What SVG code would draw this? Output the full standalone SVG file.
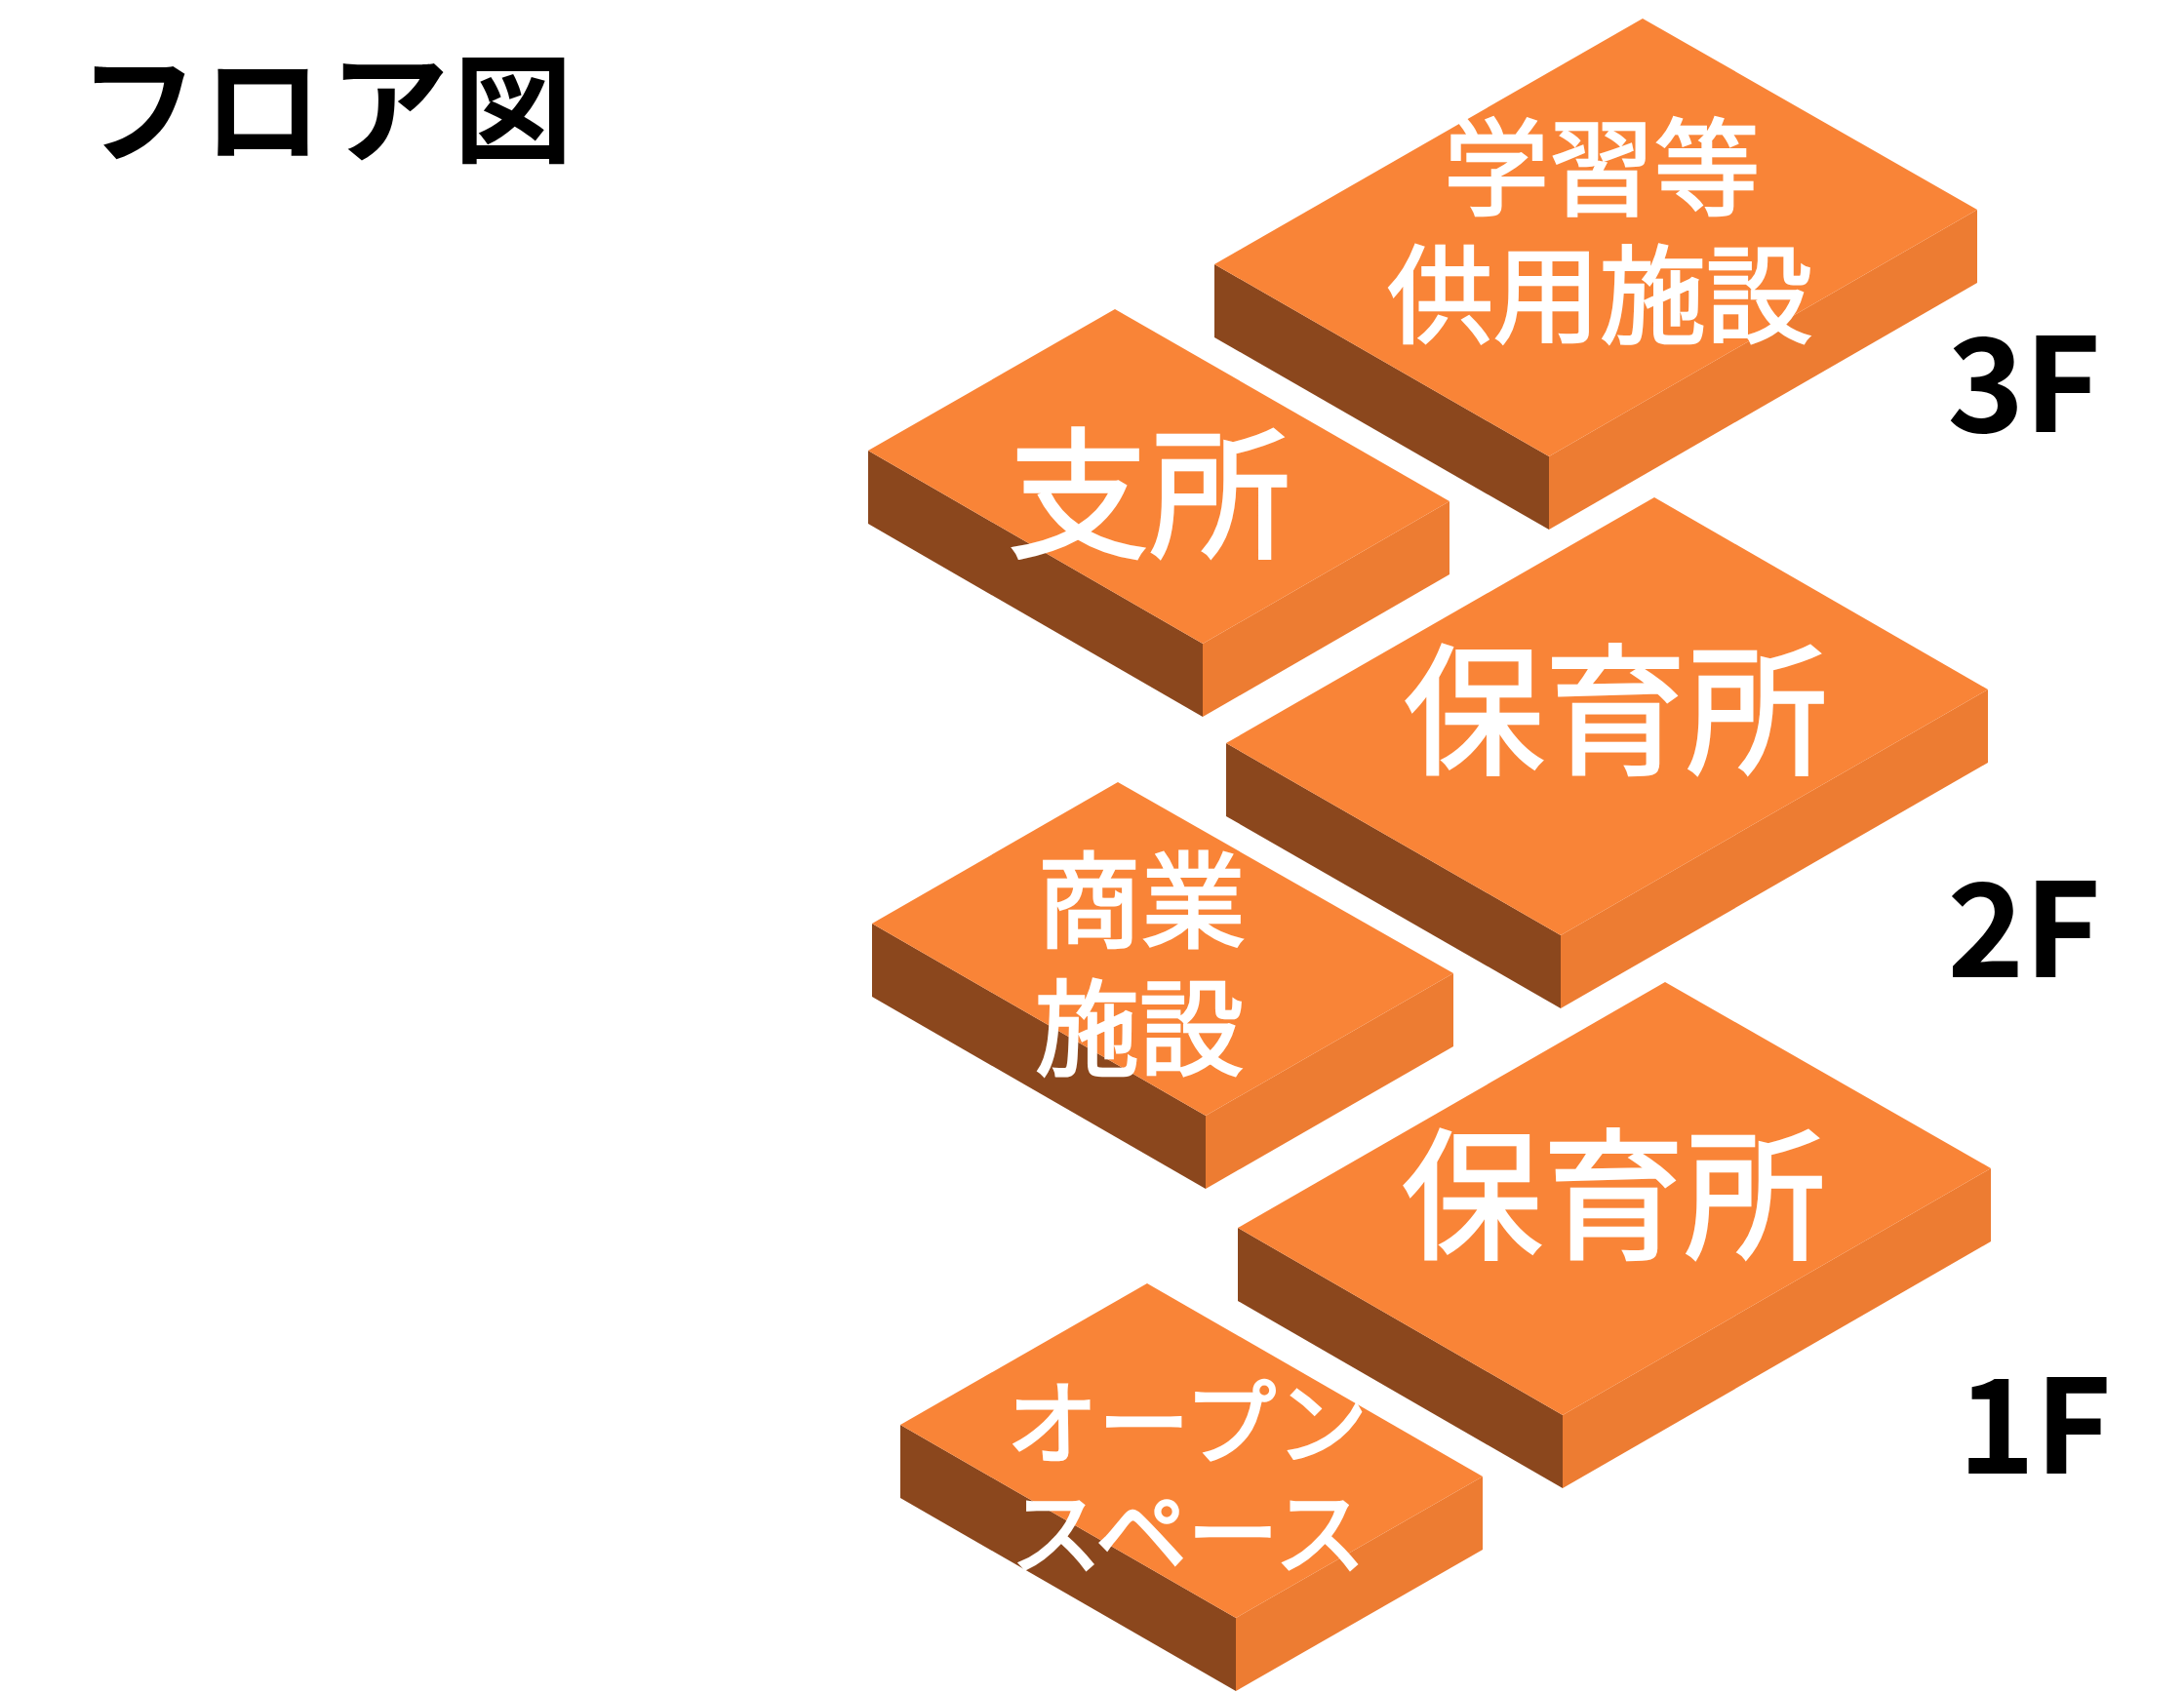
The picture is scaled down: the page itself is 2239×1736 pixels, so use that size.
<svg xmlns="http://www.w3.org/2000/svg" width="2239" height="1736" viewBox="0 0 2239 1736">
<style>
.top{fill:#f98437}.l{fill:#8b471d}.r{fill:#ed7c32}
text{font-family:"Noto Sans CJK JP","Noto Sans",sans-serif;font-weight:400;text-anchor:middle}
.w{fill:#fff;stroke:#fff;stroke-width:2.5;stroke-linejoin:miter}
.k{fill:#000;font-weight:700}
</style>
<rect width="2239" height="1736" fill="#fff"/>
<g id="title"><text class="k" x="142 269 399 526" y="157" font-size="122">フロア図</text></g>
<g id="block-3f-study"><polygon class="l" points="1245,271 1588,468 1588,543 1245,346"/><polygon class="r" points="1588,468 2027,215 2027,290 1588,543"/><polygon class="top" points="1684,19 2027,215 1588,468 1245,271"/>
<text class="w" x="1642" y="212" font-size="108">学習等</text><text class="w" x="1640" y="343" font-size="109">供用施設</text></g>
<g id="block-branch"><polygon class="l" points="890,462 1233,660 1233,735 890,537"/><polygon class="r" points="1233,660 1486,514 1486,589 1233,735"/><polygon class="top" points="1143,317 1486,514 1233,660 890,462"/>
<text class="w" x="1178" y="561" font-size="145">支所</text></g>
<g id="block-2f-nursery"><polygon class="l" points="1257,762 1600,959 1600,1034 1257,837"/><polygon class="r" points="1600,959 2038,707 2038,782 1600,1034"/><polygon class="top" points="1696,510 2038,707 1600,959 1257,762"/>
<text class="w" x="1656" y="783" font-size="145">保育所</text></g>
<g id="block-commerce"><polygon class="l" points="894,947 1236,1144 1236,1219 894,1022"/><polygon class="r" points="1236,1144 1490,998 1490,1073 1236,1219"/><polygon class="top" points="1146,802 1490,998 1236,1144 894,947"/>
<text class="w" x="1170" y="963" font-size="107">商業</text><text class="w" x="1168" y="1094" font-size="107">施設</text></g>
<g id="block-1f-nursery"><polygon class="l" points="1269,1259 1602,1451 1602,1526 1269,1334"/><polygon class="r" points="1602,1451 2041,1198 2041,1273 1602,1526"/><polygon class="top" points="1707,1007 2041,1198 1602,1451 1269,1259"/>
<text class="w" x="1654" y="1280" font-size="145">保育所</text></g>
<g id="block-open"><polygon class="l" points="923,1461 1267,1659 1267,1734 923,1536"/><polygon class="r" points="1267,1659 1520,1514 1520,1589 1267,1734"/><polygon class="top" points="1176,1316 1520,1514 1267,1659 923,1461"/>
<text class="w" x="1217" y="1494" font-size="94">オープン</text><text class="w" x="1218" y="1607" font-size="94">スペース</text></g>
<g id="floors"><text class="k" x="2075" y="443" font-size="134">3F</text><text class="k" x="2075" y="1002" font-size="134">2F</text><text class="k" x="2086" y="1511" font-size="134">1F</text></g>
</svg>
